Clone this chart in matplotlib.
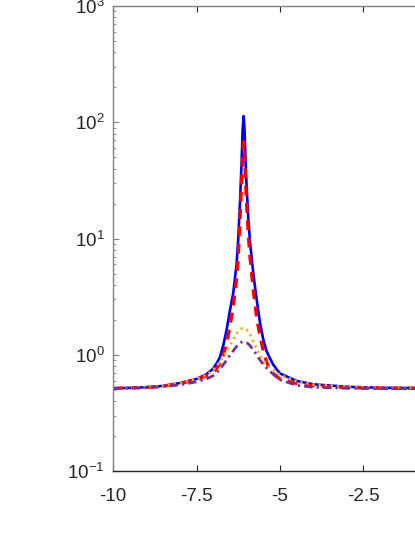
import matplotlib
matplotlib.use("Agg")
import matplotlib.pyplot as plt
from matplotlib.ticker import LogLocator, NullFormatter

plt.rcParams['font.family'] = ['Liberation Sans', 'DejaVu Sans']
plt.rcParams['mathtext.default'] = 'regular'

# values
x = [-10, -9, -8.5, -8, -7.5, -7.2, -7, -6.9, -6.8, -6.7, -6.6, -6.5, -6.4, -6.3, -6.25,
     -6.2, -6.15, -6.12, -6.09, -6.06, -6.03, -6.0, -5.95, -5.9, -5.8, -5.7, -5.6,
     -5.5, -5.4, -5.3, -5.2, -5.1, -5, -4.5, -4, -3, -2, -1, 0]

blue = [0.514, 0.525, 0.54, 0.571, 0.619, 0.68, 0.76, 0.84, 0.95, 1.2, 1.63, 2.4, 3.4, 6.0, 10,
        20, 45, 85, 113, 85, 45, 28, 15, 9.5, 5.0, 3.0, 1.9,
        1.35, 1.07, 0.93, 0.82, 0.75, 0.69, 0.595, 0.557, 0.53, 0.52, 0.518, 0.515]

red = [0.514, 0.524, 0.537, 0.565, 0.61, 0.66, 0.71, 0.76, 0.84, 0.99, 1.25, 1.75, 2.6, 4.5, 7,
       14, 30, 52, 68, 52, 30, 20, 11, 7, 3.6, 2.1, 1.45,
       1.08, 0.86, 0.75, 0.69, 0.65, 0.62, 0.565, 0.54, 0.522, 0.516, 0.514, 0.513]

yellow = [0.514, 0.526, 0.54, 0.57, 0.62, 0.67, 0.74, 0.8, 0.87, 0.96, 1.07, 1.2, 1.35, 1.52, 1.59,
          1.64, 1.675, 1.69, 1.69, 1.68, 1.66, 1.64, 1.58, 1.5, 1.3, 1.13, 0.99,
          0.9, 0.82, 0.77, 0.74, 0.7, 0.67, 0.59, 0.555, 0.53, 0.52, 0.517, 0.515]

purple = [0.512, 0.52, 0.532, 0.55, 0.585, 0.62, 0.66, 0.7, 0.75, 0.82, 0.9, 0.99, 1.08, 1.18, 1.22,
          1.26, 1.285, 1.293, 1.295, 1.29, 1.28, 1.27, 1.24, 1.2, 1.1, 1.0, 0.9,
          0.83, 0.77, 0.72, 0.68, 0.64, 0.61, 0.545, 0.525, 0.515, 0.511, 0.51, 0.51]

xticks = [-10, -7.5, -5, -2.5]
xticklabels = ['-10', '-7.5', '-5', '-2.5']

fig = plt.figure(figsize=(4.15, 5.37), dpi=100)
# axes runs past the right edge of the picture (x goes on to 0)
ax = fig.add_axes([0.2723, 0.1229, 0.8048, 0.8659])

ax.plot(x, blue, color='#0000ff', lw=1.9)
ax.plot(x, red, color='#ff0000', lw=2.4, dashes=(3.0, 2.2))
ax.plot(x, yellow, color='#edb120', lw=2.0, linestyle=(0, (0.8, 1.4)))
ax.plot(x, purple, color='#7e2f8e', lw=2.0, dashes=(3.0, 1.5, 0.8, 1.5))

ax.set_yscale('log')
ax.set_ylim(0.1, 1000)
ax.set_xlim(-10, 0)
ax.set_xticks(xticks)
ax.set_xticklabels(xticklabels)
ax.yaxis.set_major_locator(LogLocator(base=10, numticks=10))
ax.yaxis.set_minor_locator(LogLocator(base=10, subs=range(2, 10), numticks=10))
ax.yaxis.set_minor_formatter(NullFormatter())

gray = '#808080'
ax.spines['left'].set_color(gray)
ax.spines['top'].set_color(gray)
ax.spines['bottom'].set_color('#262626')
for s in ax.spines.values():
    s.set_linewidth(1.0)

ax.tick_params(axis='x', direction='in', length=4, width=0.8, top=True,
               labelsize=13.5, pad=12, colors='#262626')
ax.tick_params(axis='y', which='major', direction='in', length=4, width=0.8,
               labelsize=13.5, pad=6, color=gray, labelcolor='#262626')
ax.tick_params(axis='y', which='minor', direction='in', length=2.2, width=0.6, color=gray)

fig.savefig('out.png', dpi=100)
